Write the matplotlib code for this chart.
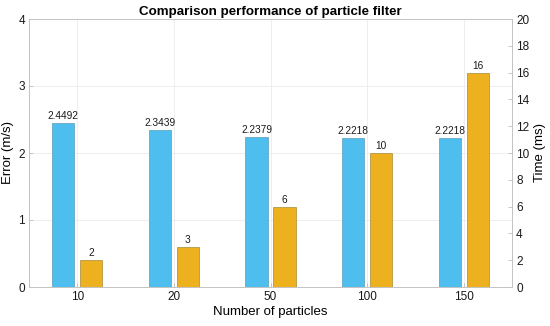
import matplotlib.pyplot as plt
import numpy as np

plt.rcParams['font.family'] = ['Liberation Sans', 'DejaVu Sans']

particles = ['10', '20', '50', '100', '150']
error_ms = [2.4492, 2.3439, 2.2379, 2.2218, 2.2218]
time_ms = [2, 3, 6, 10, 16]

blue = '#4DBEEE'
orange = '#EDB120'

x = np.arange(1, len(particles) + 1)
w = 0.23
off = 0.145

fig = plt.figure(figsize=(5.5, 3.26), dpi=100)
ax = fig.add_axes([29 / 550, 1 - 287 / 326, (512 - 29) / 550, (287 - 19) / 326])
ax2 = ax.twinx()

# error bars on left axis
b1 = ax.bar(x - off, error_ms, w, color=blue, edgecolor='#5A9DBA', linewidth=0.5, zorder=3)
for rect, v in zip(b1, error_ms):
    ax.text(rect.get_x() + rect.get_width() / 2, v + 0.03, f'{v:.4f}',
            ha='center', va='bottom', fontsize=7.3, color='#1A1A1A')

# time bars on right axis
b2 = ax2.bar(x + off, time_ms, w, color=orange, edgecolor='#A88A3A', linewidth=0.5, zorder=3)
for rect, v in zip(b2, time_ms):
    ax2.text(rect.get_x() + rect.get_width() / 2, v + 0.15, str(v),
             ha='center', va='bottom', fontsize=7.3, color='#1A1A1A')

ax.set_xlim(0.5, 5.5)
ax.set_ylim(0, 4)
ax.set_yticks([0, 1, 2, 3, 4])
ax.set_xticks(x)
ax.set_xticklabels(particles)
ax2.set_ylim(0, 20)
ax2.set_yticks(range(0, 21, 2))

ax.grid(True, color='#EBEBEB', linewidth=0.6, zorder=0)
ax.set_axisbelow(True)

for a in (ax, ax2):
    a.tick_params(direction='in', length=3, width=0.6, color='#BDBDBD',
                  labelcolor='#1A1A1A', labelsize=8.5, pad=3)
    for s in a.spines.values():
        s.set_color('#C4C4C4')
        s.set_linewidth(0.7)

ax.set_xlabel('Number of particles', fontsize=9.5, labelpad=2)
ax.set_ylabel('Error (m/s)', fontsize=9.5, labelpad=3)
ax2.set_ylabel('Time (ms)', fontsize=9.5, labelpad=3)
ax.set_title('Comparison performance of particle filter', fontsize=9.6, fontweight='bold', pad=3)

fig.savefig('out.png', dpi=100)
